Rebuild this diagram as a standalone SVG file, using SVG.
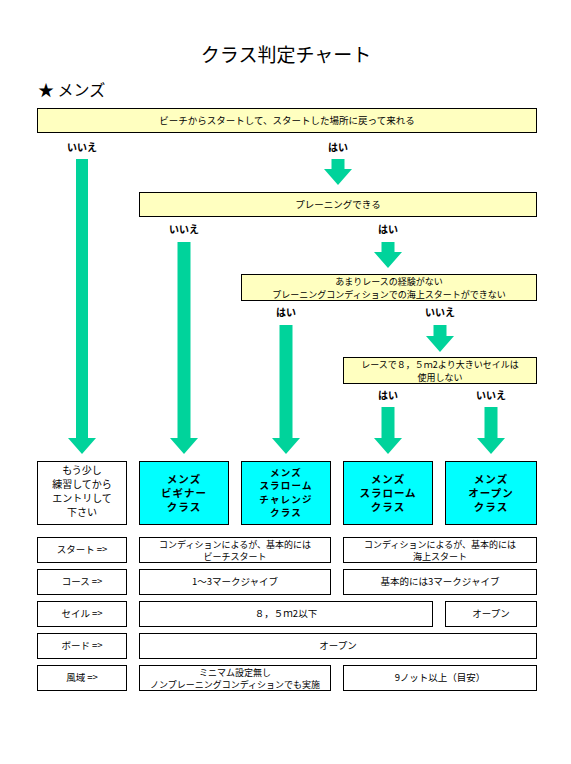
<svg xmlns="http://www.w3.org/2000/svg" width="571" height="764" viewBox="0 0 571 764">
<style>
text{font-family:"Noto Sans CJK JP","Noto Sans",sans-serif;fill:#000;text-anchor:middle}
.q{fill:#ffffc0;stroke:#000;stroke-width:1}
.w{fill:#fff;stroke:#000;stroke-width:1}
.c{fill:#00ffff;stroke:#000;stroke-width:1}
.t{font-size:9.5px}
.t2{font-size:9px}
.lb{font-size:10px;font-weight:bold}
.cb{font-size:10.5px;font-weight:bold;letter-spacing:1px}
.cb4{font-size:9.5px;font-weight:bold;letter-spacing:1.2px}
.wb{font-size:10px}
.ar{fill:#00d39b}
</style>
<rect width="571" height="764" fill="#fff"/>
<text x="286" y="62" style="font-size:19px">クラス判定チャート</text>
<text x="38" y="96" style="font-size:16px;text-anchor:start">★ メンズ</text>

<g id="q1"><rect class="q" x="37.5" y="108.5" width="499" height="24"/><text class="t" x="287" y="124">ビーチからスタートして、スタートした場所に戻って来れる</text></g>
<g id="q2"><rect class="q" x="139.5" y="192.5" width="397" height="24"/><text class="t" x="338" y="208">プレーニングできる</text></g>
<g id="q3"><rect class="q" x="241.5" y="274.5" width="295" height="26"/><text class="t2" x="389" y="285">あまりレースの経験がない</text><text class="t2" x="389" y="297.5">プレーニングコンディションでの海上スタートができない</text></g>
<g id="q4"><rect class="q" x="343.5" y="357.5" width="193" height="26"/><text class="t2" x="440" y="368">レースで８，５ｍ2より大きいセイルは</text><text class="t2" x="440" y="380.5">使用しない</text></g>

<g id="labels">
<text class="lb" x="82" y="151">いいえ</text>
<text class="lb" x="338" y="151">はい</text>
<text class="lb" x="184" y="233">いいえ</text>
<text class="lb" x="388" y="233">はい</text>
<text class="lb" x="286" y="316">はい</text>
<text class="lb" x="440" y="316">いいえ</text>
<text class="lb" x="388" y="399">はい</text>
<text class="lb" x="491" y="399">いいえ</text>
</g>

<g id="connectors">
<polygon class="ar" points="76,159 88,159 88,438 96,438 82,454 68,438 76,438"/>
<polygon class="ar" points="331.5,159 344.5,159 344.5,169 352,169 338,185 324,169 331.5,169"/>
<polygon class="ar" points="177.5,242 190.5,242 190.5,438 198,438 184,454 170,438 177.5,438"/>
<polygon class="ar" points="381.5,242 394.5,242 394.5,252 402,252 388,268 374,252 381.5,252"/>
<polygon class="ar" points="279.5,325 292.5,325 292.5,438 300,438 286,454 272,438 279.5,438"/>
<polygon class="ar" points="433.5,325 446.5,325 446.5,336 454,336 440,352 426,336 433.5,336"/>
<polygon class="ar" points="381.5,407 394.5,407 394.5,438 402,438 388,454 374,438 381.5,438"/>
<polygon class="ar" points="484.5,407 497.5,407 497.5,438 505,438 491,454 477,438 484.5,438"/>
</g>

<g id="c0"><rect class="w" x="37.5" y="461.5" width="89" height="63"/>
<text class="wb" x="82" y="474">もう少し</text><text class="wb" x="82" y="488">練習してから</text><text class="wb" x="82" y="502">エントリして</text><text class="wb" x="82" y="516">下さい</text></g>
<g id="c1"><rect class="c" x="139.5" y="461.5" width="89" height="63"/>
<text class="cb" x="184" y="483">メンズ</text><text class="cb" x="184" y="497">ビギナー</text><text class="cb" x="184" y="511">クラス</text></g>
<g id="c2"><rect class="c" x="241.5" y="461.5" width="89" height="63"/>
<text class="cb4" x="286" y="475.5">メンズ</text><text class="cb4" x="286" y="489">スラローム</text><text class="cb4" x="286" y="502.5">チャレンジ</text><text class="cb4" x="286" y="516">クラス</text></g>
<g id="c3"><rect class="c" x="343.5" y="461.5" width="89" height="63"/>
<text class="cb" x="388" y="483">メンズ</text><text class="cb" x="388" y="497">スラローム</text><text class="cb" x="388" y="511">クラス</text></g>
<g id="c4"><rect class="c" x="445.5" y="461.5" width="91" height="63"/>
<text class="cb" x="491" y="483">メンズ</text><text class="cb" x="491" y="497">オープン</text><text class="cb" x="491" y="511">クラス</text></g>

<g id="r-start">
<rect class="w" x="37.5" y="537.5" width="89" height="25"/><text class="t" x="82" y="553">スタート =&gt;</text>
<rect class="w" x="139.5" y="537.5" width="191" height="25"/><text class="t2" x="235" y="547.5">コンディションによるが、基本的には</text><text class="t2" x="235" y="560">ビーチスタート</text>
<rect class="w" x="343.5" y="537.5" width="193" height="25"/><text class="t2" x="440" y="547.5">コンディションによるが、基本的には</text><text class="t2" x="440" y="560">海上スタート</text>
</g>
<g id="r-course">
<rect class="w" x="37.5" y="569.5" width="89" height="25"/><text class="t" x="82" y="585">コース =&gt;</text>
<rect class="w" x="139.5" y="569.5" width="191" height="25"/><text class="t" x="235" y="585">1～3マークジャイブ</text>
<rect class="w" x="343.5" y="569.5" width="193" height="25"/><text class="t" x="440" y="585">基本的には3マークジャイブ</text>
</g>
<g id="r-sail">
<rect class="w" x="37.5" y="601.5" width="89" height="25"/><text class="t" x="82" y="617">セイル =&gt;</text>
<rect class="w" x="139.5" y="601.5" width="293" height="25"/><text class="t" x="286" y="617">８，５ｍ2以下</text>
<rect class="w" x="445.5" y="601.5" width="91" height="25"/><text class="t" x="491" y="617">オープン</text>
</g>
<g id="r-board">
<rect class="w" x="37.5" y="633.5" width="89" height="25"/><text class="t" x="82" y="649">ボード =&gt;</text>
<rect class="w" x="139.5" y="633.5" width="397" height="25"/><text class="t" x="338" y="649">オープン</text>
</g>
<g id="r-wind">
<rect class="w" x="37.5" y="665.5" width="89" height="25"/><text class="t" x="82" y="681">風域 =&gt;</text>
<rect class="w" x="139.5" y="665.5" width="191" height="25"/><text class="t2" x="235" y="675.5">ミニマム設定無し</text><text class="t2" x="235" y="688">ノンプレーニングコンディションでも実施</text>
<rect class="w" x="343.5" y="665.5" width="193" height="25"/><text class="t" x="440" y="681">9ノット以上（目安）</text>
</g>
</svg>
